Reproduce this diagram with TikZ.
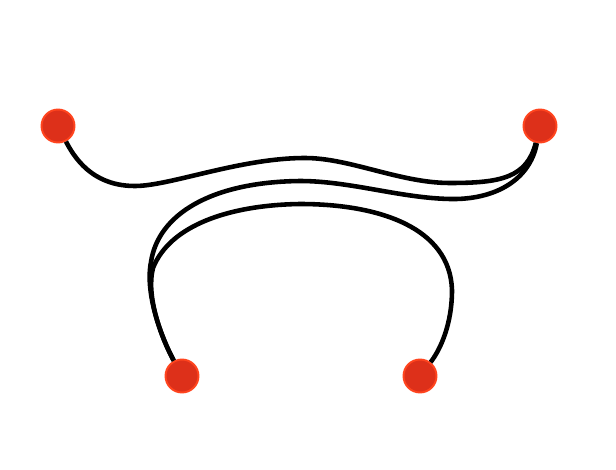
\documentclass[tikz,border=0pt]{standalone}
\usepackage{tikz}
\definecolor{dotred}{RGB}{221,48,26}
\definecolor{dotrim}{RGB}{255,68,30}

\begin{document}
\begin{tikzpicture}[x=0.02cm,y=-0.02cm,
  dot/.style={circle,fill=dotred,draw=dotrim,line width=1.1pt,minimum size=0.66cm,inner sep=0pt},
  wire/.style={draw=black,line width=2.6pt}]
\useasboundingbox (0,0) rectangle (616,470);
\node[dot] (tl) at (58,126) {};
\node[dot] (tr) at (540,126) {};
\node[dot] (bl) at (182,376) {};
\node[dot] (br) at (420,376) {};
% top strand, end to end
\draw[wire] (tl) .. controls (78,165) and (98,186) .. (135,186)
  .. controls (170,186) and (240,158) .. (305,158)
  .. controls (350,158) and (400,183) .. (450,183)
  .. controls (500,183) and (527,178) .. (tr);
% middle strand
\draw[wire] (bl) .. controls (160,335) and (145,292) .. (151,262)
  .. controls (158,215) and (210,182) .. (300,181)
  .. controls (350,181) and (400,198) .. (450,199)
  .. controls (495,200) and (530,180) .. (tr);
% lower arch
\draw[wire] (bl) .. controls (160,335) and (146,295) .. (153,268)
  .. controls (170,225) and (230,205) .. (300,204)
  .. controls (380,204) and (450,228) .. (452,290)
  .. controls (452,325) and (440,350) .. (br);
\end{tikzpicture}
\end{document}
